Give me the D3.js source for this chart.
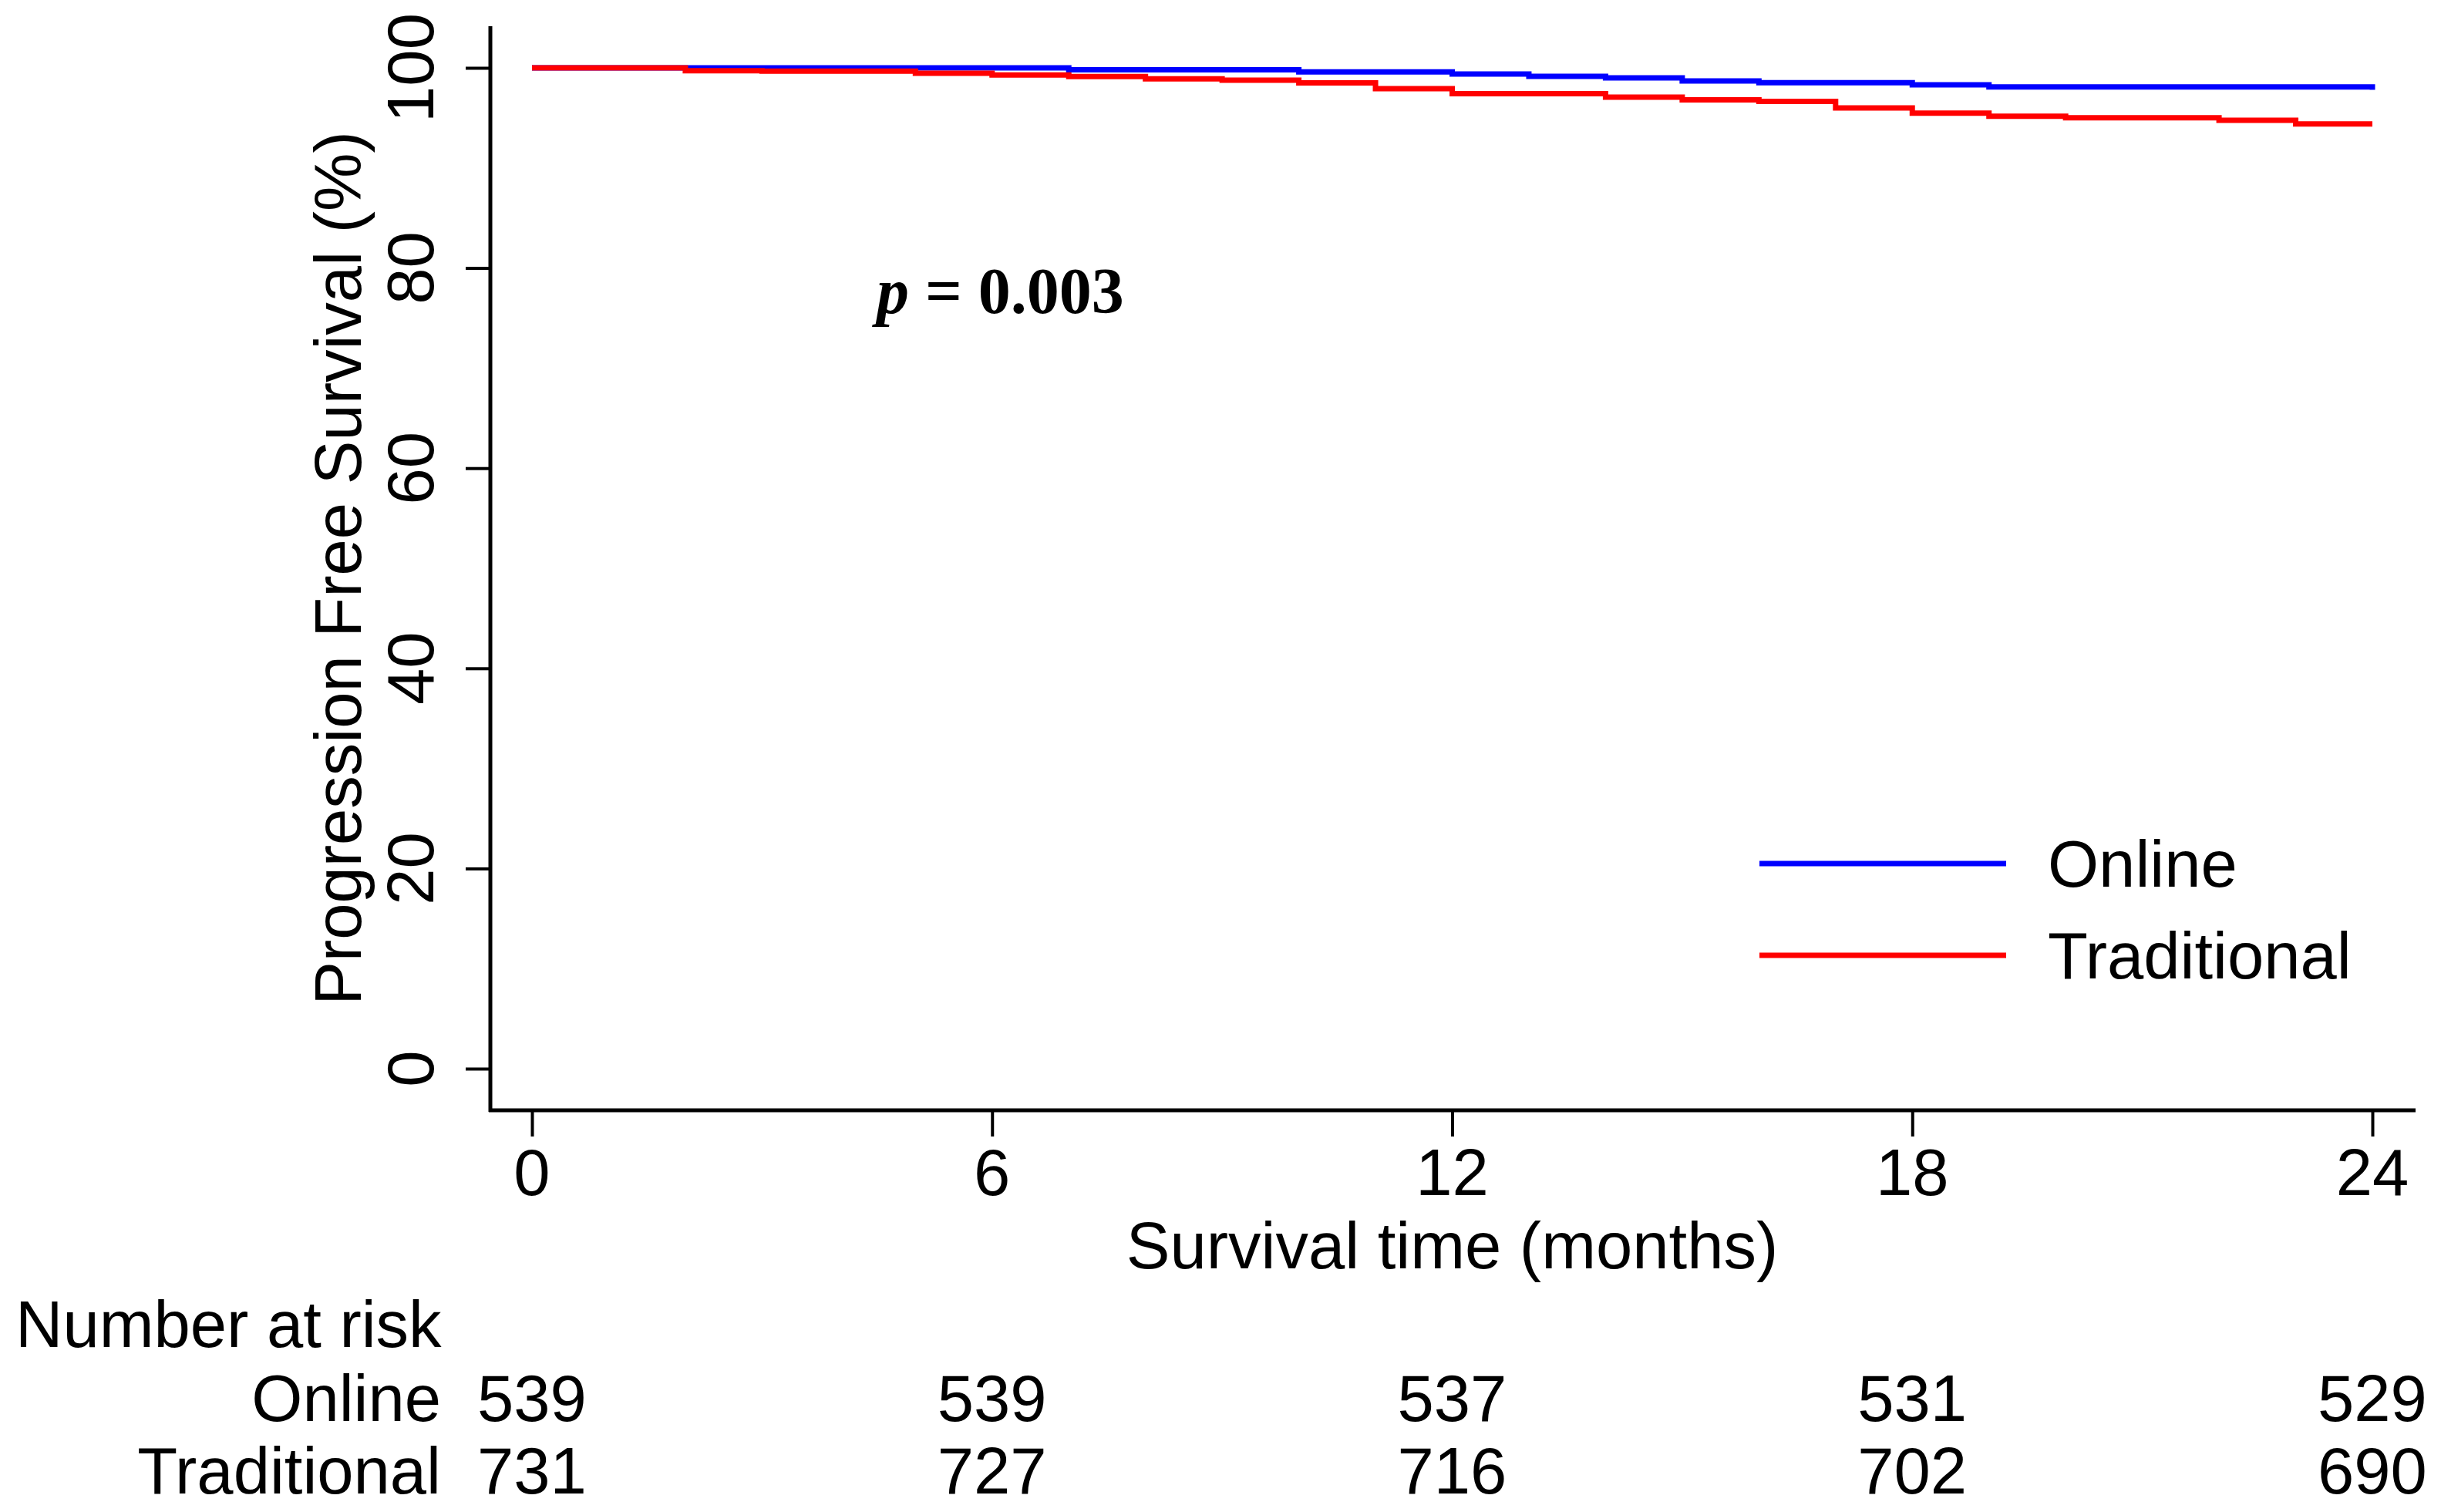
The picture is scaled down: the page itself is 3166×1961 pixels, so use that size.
<!DOCTYPE html>
<html>
<head>
<meta charset="utf-8">
<script src="https://cdn.jsdelivr.net/npm/d3@7"></script>
<style>
body { margin: 0; background: white; }
text { font-family: "Liberation Sans", Arial, sans-serif; fill: black; }
</style>
</head>
<body>
<svg id="chart"></svg>
<script>
var svg_width = 3166
var svg_height = 1961

// step points: [month, percent]
var onlineSteps = [[0, 100], [7, 99.8], [10, 99.59], [12, 99.38], [13, 99.15], [14, 99.0],
                   [15, 98.69], [16, 98.51], [18, 98.3], [19, 98.1], [24, 97.8]];
var traditionalSteps = [[0, 100], [2, 99.72], [3, 99.67], [5, 99.46], [6, 99.28], [7, 99.13],
                        [8, 98.9], [9, 98.77], [10, 98.49], [11, 97.92], [12, 97.41], [14, 97.07],
                        [15, 96.8], [16, 96.64], [17, 95.99], [18, 95.48], [19, 95.17], [20, 95.02],
                        [22, 94.76], [23, 94.4], [24, 94.4]];

var xTicks = [0, 6, 12, 18, 24];
var yTicks = [0, 20, 40, 60, 80, 100];
var riskGroups = ["Online", "Traditional"];
var riskOnline = [539, 539, 537, 531, 529];
var riskTraditional = [731, 727, 716, 702, 690];

var svg = d3.select("#chart")
  .attr("width", svg_width)
  .attr("height", svg_height);

var x = d3.scaleLinear().domain([0, 24]).range([690, 3077]);
var y = d3.scaleLinear().domain([0, 100]).range([1386, 88]);

var axisX = 636, axisY = 1440;

// y axis
var yAxis = svg.append("g")
  .attr("transform", "translate(" + axisX + ",0)")
  .call(d3.axisLeft(y).tickValues(yTicks).tickSize(32).tickSizeOuter(0).tickFormat(""));
yAxis.select(".domain").remove();
yAxis.selectAll(".tick line").attr("stroke", "black").attr("stroke-width", 4);

svg.selectAll(".ylab")
  .data(yTicks)
  .enter()
  .append("text")
  .attr("class", "ylab")
  .attr("transform", function(d) { return "translate(562," + y(d) + ") rotate(-90)"; })
  .attr("text-anchor", "middle")
  .attr("font-size", 85)
  .text(function(d) { return d; });

// x axis
var xAxis = svg.append("g")
  .attr("transform", "translate(0," + axisY + ")")
  .call(d3.axisBottom(x).tickValues(xTicks).tickSize(34).tickSizeOuter(0).tickFormat(""));
xAxis.select(".domain").remove();
xAxis.selectAll(".tick line").attr("stroke", "black").attr("stroke-width", 4);

svg.selectAll(".xlab")
  .data(xTicks)
  .enter()
  .append("text")
  .attr("class", "xlab")
  .attr("x", function(d) { return x(d); })
  .attr("y", 1550)
  .attr("text-anchor", "middle")
  .attr("font-size", 85)
  .text(function(d) { return d; });

svg.append("line")
  .attr("x1", axisX).attr("x2", axisX)
  .attr("y1", 34).attr("y2", axisY + 2)
  .attr("stroke", "black").attr("stroke-width", 5);
svg.append("line")
  .attr("x1", axisX - 2).attr("x2", 3133)
  .attr("y1", axisY).attr("y2", axisY)
  .attr("stroke", "black").attr("stroke-width", 5);

// titles
svg.append("text")
  .attr("transform", "translate(468," + y(50) + ") rotate(-90)")
  .attr("text-anchor", "middle")
  .attr("font-size", 85)
  .text("Progression Free Survival (%)");

svg.append("text")
  .attr("x", x(12))
  .attr("y", 1645)
  .attr("text-anchor", "middle")
  .attr("font-size", 85)
  .text("Survival time (months)");

// curves
var line = d3.line()
  .x(function(d) { return x(d[0]); })
  .y(function(d) { return y(d[1]); })
  .curve(d3.curveStepAfter);

svg.append("path")
  .datum(onlineSteps)
  .attr("d", line)
  .attr("fill", "none")
  .attr("stroke", "#0000ff")
  .attr("stroke-width", 7);

svg.append("path")
  .datum(traditionalSteps)
  .attr("d", line)
  .attr("fill", "none")
  .attr("stroke", "#ff0000")
  .attr("stroke-width", 7);

// p value
var pt = svg.append("text")
  .attr("x", 1137)
  .attr("y", 406)
  .attr("font-size", 84)
  .style("font-family", "'Liberation Serif', 'Times New Roman', serif")
  .attr("font-weight", "bold");
pt.append("tspan").attr("font-style", "italic").text("p");
pt.append("tspan").text(" = 0.003");

// legend
var legendColors = ["#0000ff", "#ff0000"];
var legendY = [1120, 1239];
riskGroups.forEach(function(g, i) {
  svg.append("line")
    .attr("x1", 2282).attr("x2", 2602)
    .attr("y1", legendY[i]).attr("y2", legendY[i])
    .attr("stroke", legendColors[i]).attr("stroke-width", 7);
  svg.append("text")
    .attr("x", 2656)
    .attr("y", legendY[i] + 30)
    .attr("font-size", 85)
    .text(g);
});

// number at risk table
svg.append("text")
  .attr("x", 20)
  .attr("y", 1747)
  .attr("font-size", 85)
  .text("Number at risk");

var riskRows = [riskOnline, riskTraditional];
var rowY = [1843, 1937];
riskRows.forEach(function(row, i) {
  svg.append("text")
    .attr("x", 572)
    .attr("y", rowY[i])
    .attr("text-anchor", "end")
    .attr("font-size", 85)
    .text(riskGroups[i]);
  svg.selectAll(".risk" + i)
    .data(row)
    .enter()
    .append("text")
    .attr("class", "risk" + i)
    .attr("x", function(d, j) { return x(xTicks[j]); })
    .attr("y", rowY[i])
    .attr("text-anchor", "middle")
    .attr("font-size", 85)
    .text(function(d) { return d; });
});
</script>
</body>
</html>
